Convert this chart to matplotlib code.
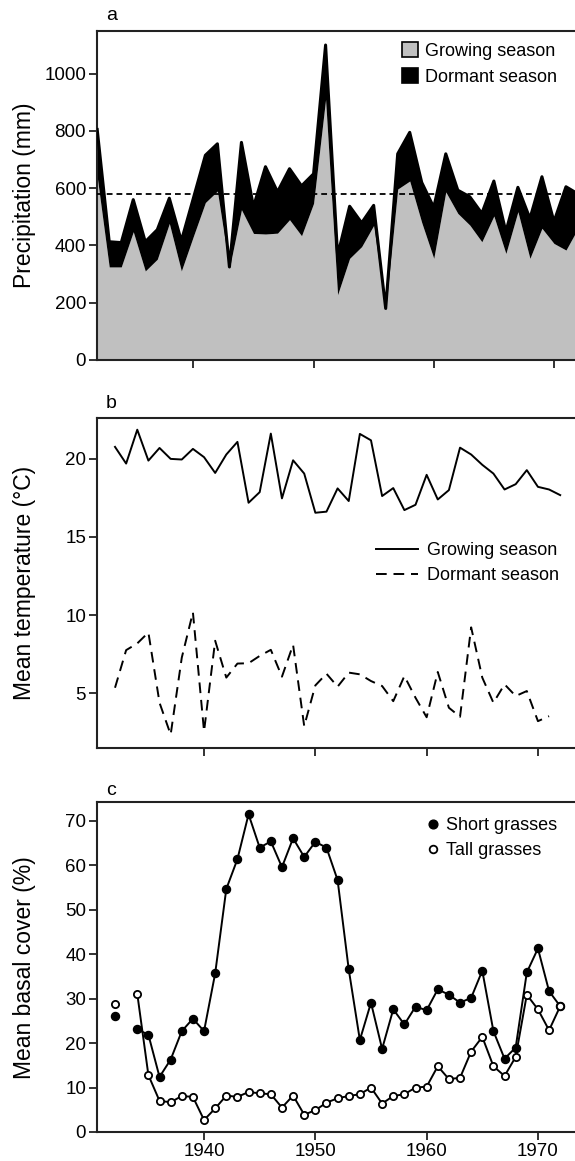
import matplotlib
matplotlib.use("Agg")
import matplotlib.pyplot as plt
from matplotlib.patches import Patch
from matplotlib.lines import Line2D
import numpy as np

plt.rcParams['font.family'] = ['Liberation Sans', 'DejaVu Sans']

# ---------------- data ----------------
years = list(range(1932, 1973))

# panel a: precipitation (mm)
precip_growing = [640, 325, 325, 448, 311, 352, 477, 311, 432, 550,
                  590, 320, 525, 442, 440, 443, 490, 434, 547, 910,
                  228, 355, 396, 470, 175, 597, 625, 480, 355, 587,
                  512, 471, 413, 503, 372, 518, 355, 460, 407, 384, 460]
precip_total = [805, 413, 410, 560, 413, 455, 565, 416, 565, 715,
                755, 325, 760, 535, 675, 587, 668, 608, 650, 1100,
                365, 537, 479, 540, 180, 720, 795, 620, 533, 720,
                593, 570, 512, 625, 448, 603, 494, 640, 483, 605, 580]
precip_mean = 580

# panel b: mean temperature (deg C)
temp_growing = [20.77, 19.70, 21.87, 19.89, 20.70, 20.00, 19.96, 20.64, 20.11, 19.10,
                20.28, 21.09, 17.19, 17.87, 21.62, 17.47, 19.91, 19.06, 16.55, 16.62,
                18.11, 17.30, 21.60, 21.19, 17.62, 18.13, 16.72, 17.06, 18.98, 17.40,
                18.00, 20.72, 20.28, 19.62, 19.06, 18.04, 18.38, 19.28, 18.21, 18.04, 17.68]
years_dormant = list(range(1932, 1972))
temp_dormant = [5.34, 7.75, 8.18, 8.88, 4.38, 2.34, 7.27, 10.17, 2.55, 8.35,
                5.99, 6.89, 6.91, 7.38, 7.77, 6.05, 8.09, 2.88, 5.49, 6.24,
                5.41, 6.31, 6.20, 5.77, 5.45, 4.48, 6.09, 4.70, 3.45, 6.35,
                4.06, 3.48, 9.21, 5.99, 4.38, 5.56, 4.81, 5.13, 3.20, 3.52]

# panel c: mean basal cover (%)
cover_first_year = 1932
short_first = 26.2
tall_first = 28.9
cover_years = list(range(1934, 1973))
short_cover = [23.1, 21.9, 12.4, 16.3, 22.7, 25.5, 22.7, 35.7, 54.7, 61.4,
               71.5, 64.0, 65.4, 59.6, 66.1, 61.9, 65.3, 64.0, 56.7, 36.6,
               20.7, 29.1, 18.7, 27.6, 24.2, 28.2, 27.4, 32.1, 30.9, 29.1,
               30.2, 36.3, 22.7, 16.5, 19.0, 35.9, 41.3, 31.7, 28.3]
tall_cover = [31.1, 12.8, 7.0, 6.7, 8.1, 7.9, 2.7, 5.3, 8.2, 7.9,
              9.0, 8.7, 8.5, 5.5, 8.2, 3.9, 4.9, 6.6, 7.6, 8.1,
              8.5, 10.0, 6.4, 8.1, 8.5, 10.0, 10.2, 14.8, 11.9, 12.2,
              18.1, 21.4, 14.8, 12.6, 16.9, 30.9, 27.6, 22.9, 28.3]

xticks = [1940, 1950, 1960, 1970]

# ---------------- figure ----------------
W, H = 575, 1161
fig = plt.figure(figsize=(W / 100, H / 100), dpi=100)

def ax_rect(left_px, top_px, right_px, bottom_px):
    return [left_px / W, 1 - bottom_px / H, (right_px - left_px) / W, (bottom_px - top_px) / H]

axa = fig.add_axes(ax_rect(97.2, 30.7, 578, 360))
axb = fig.add_axes(ax_rect(97.2, 418.3, 578, 747.7))
axc = fig.add_axes(ax_rect(97.2, 802.3, 578, 1132))

TICK_FS = 13.5
LEG_FS = 13
LAB_FS = 16.5

for ax in (axa, axb, axc):
    for s in ax.spines.values():
        s.set_linewidth(1.5)
        s.set_color('#222222')
    ax.tick_params(direction='out', length=6, width=1.3, labelsize=TICK_FS, pad=2,
                   color='#222222')
    ax.set_xticks(xticks)

# ---- panel a ----
gray = '#c0c0c0'
axa.fill_between(years, 0, precip_growing, color=gray, lw=0, zorder=1)
axa.fill_between(years, precip_growing, precip_total, color='black', lw=0, zorder=2)
axa.plot(years, precip_total, color='black', lw=2.2, zorder=3)
axa.axhline(precip_mean, color='black', lw=1.3, ls=(0, (3.2, 2.2)), zorder=4)
axa.set_xlim(1932, 1972)
axa.set_ylim(0, 1150)
axa.set_yticks([0, 200, 400, 600, 800, 1000])
axa.set_xticklabels([])
axa.set_ylabel('Precipitation (mm)', fontsize=LAB_FS)
handles_a = [Patch(facecolor=gray, edgecolor='black', lw=1.2, label='Growing season'),
             Patch(facecolor='black', edgecolor='black', lw=1.2, label='Dormant season')]
axa.legend(handles=handles_a, loc='upper left', bbox_to_anchor=(0.633, 0.965),
           frameon=False, fontsize=LEG_FS, borderpad=0, borderaxespad=0,
           handlelength=0.9, handleheight=0.9, handletextpad=0.4, labelspacing=0.45)
axa.text(0.018, 1.032, 'a', transform=axa.transAxes, fontsize=14, va='baseline', ha='left')

# ---- panel b ----
axb.plot(years, temp_growing, color='black', lw=1.4)
axb.plot(years_dormant, temp_dormant, color='black', lw=1.4, ls=(0, (5.5, 3.5)))
axb.set_xlim(1930.4, 1973.6)
axb.set_ylim(1.5, 22.6)
axb.set_yticks([5, 10, 15, 20])
axb.set_xticklabels([])
axb.set_ylabel('Mean temperature (°C)', fontsize=LAB_FS)
handles_b = [Line2D([], [], color='black', lw=1.4, label='Growing season'),
             Line2D([], [], color='black', lw=1.4, ls=(0, (5.5, 3.5)), label='Dormant season')]
axb.legend(handles=handles_b, loc='upper left', bbox_to_anchor=(0.58, 0.625),
           frameon=False, fontsize=LEG_FS, borderpad=0, borderaxespad=0,
           handlelength=2.3, handletextpad=0.5, labelspacing=0.45)
axb.text(0.018, 1.03, 'b', transform=axb.transAxes, fontsize=14, va='baseline', ha='left')

# ---- panel c ----
ms = 5.8
axc.plot([cover_first_year], [short_first], 'o', color='black', ms=ms, zorder=3)
axc.plot([cover_first_year], [tall_first], 'o', mfc='white', mec='black', mew=1.3,
         ms=ms - 0.6, zorder=4)
axc.plot(cover_years, short_cover, '-o', color='black', lw=1.4, ms=ms, zorder=3)
axc.plot(cover_years, tall_cover, '-o', color='black', lw=1.4, mfc='white', mec='black',
         mew=1.3, ms=ms - 0.6, zorder=4)
axc.set_xlim(1930.4, 1973.6)
axc.set_ylim(0, 74.2)
axc.set_yticks(list(range(0, 80, 10)))
axc.set_ylabel('Mean basal cover (%)', fontsize=LAB_FS)
handles_c = [Line2D([], [], ls='none', marker='o', color='black', ms=ms + 0.5, label='Short grasses'),
             Line2D([], [], ls='none', marker='o', mfc='white', mec='black', mew=1.3,
                    ms=ms - 0.3, label='Tall grasses')]
axc.legend(handles=handles_c, loc='upper left', bbox_to_anchor=(0.683, 0.955),
           frameon=False, fontsize=LEG_FS, borderpad=0, borderaxespad=0,
           handlelength=0.8, handletextpad=0.35, labelspacing=0.45)
axc.text(0.018, 1.022, 'c', transform=axc.transAxes, fontsize=14, va='baseline', ha='left')

for ax in (axa, axb, axc):
    ax.yaxis.set_label_coords(-0.128, 0.5)

fig.savefig('out.png', dpi=100)
